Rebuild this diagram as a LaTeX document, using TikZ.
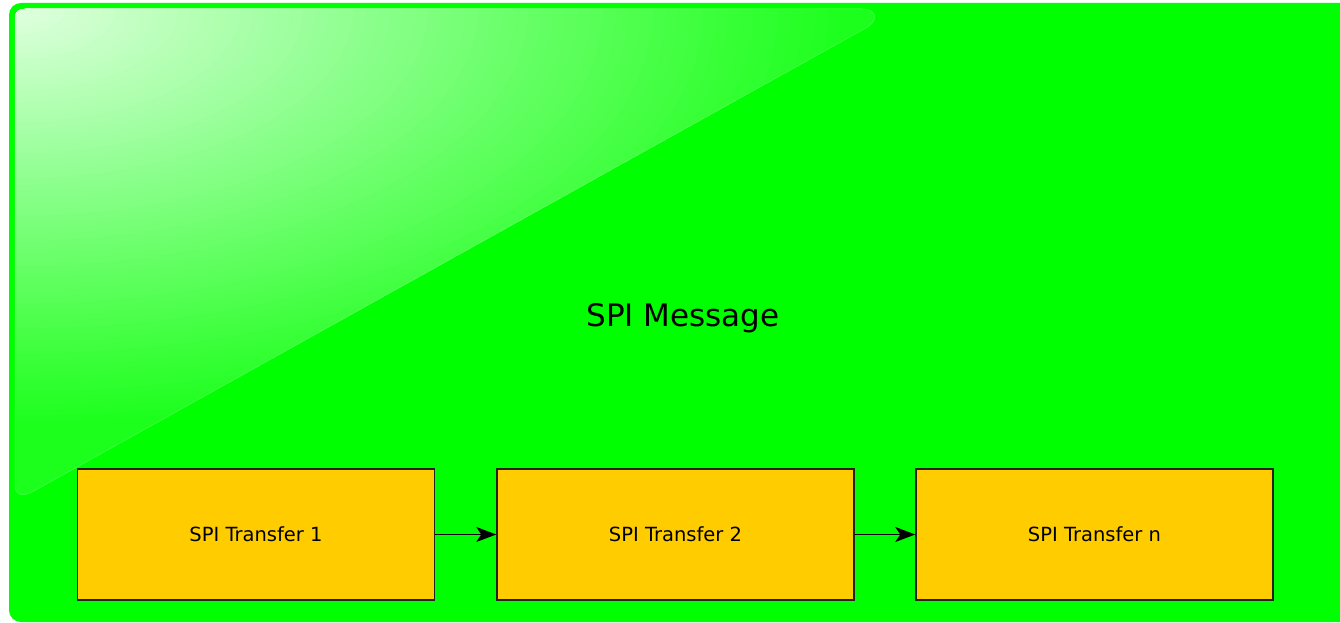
\documentclass[tikz,border=0pt]{standalone}
\usepackage{fontspec}
\setmainfont{DejaVu Sans}
\usetikzlibrary{arrows.meta}
\definecolor{bggreen}{HTML}{00FF00}
\definecolor{boxyellow}{HTML}{FFCC00}
\definecolor{boxline}{HTML}{222222}
\tikzset{
  xferbox/.style={draw=boxline, line width=1.5pt, fill=boxyellow, minimum width=357pt, minimum height=131pt, inner sep=0pt, font=\fontsize{19.5}{22}\selectfont},
  flow/.style={draw=black, line width=1.5pt, -{Stealth[length=20pt,width=15pt,inset=5pt]}},
  glossrim/.style={draw=white, draw opacity=0.12, line width=1pt}
}
\def\glosspath{(15,19) .. controls (15,12) and (18,9) .. (25,9) -- (862,9)
  .. controls (878,9) and (879,22) .. (864,29)
  -- (32,492) .. controls (22,497) and (15,495) .. (15,485) -- cycle}
\begin{document}
\begin{tikzpicture}[x=1pt,y=-1pt]
\useasboundingbox (0,0) rectangle (1340,623);
% outer green container
\draw[draw=bggreen, line width=4pt, fill=bggreen, rounded corners=10pt] (11,5) rectangle (1360,620);
% glossy highlight
\begin{scope}
  \clip \glosspath;
  \foreach \i in {120,119,...,0} {
    \pgfmathsetmacro\rr{\i/120*1.5}
    \pgfmathsetmacro\ww{max(11,88-92*\rr)}
    \fill[fill=white!\ww!bggreen] (15,9) ellipse [x radius={1000*\rr+0.5}, y radius={500*\rr+0.5}];
  }
\end{scope}
\path[glossrim] \glosspath;
% title
\node[font=\fontsize{31}{36}\selectfont] (title) at (683,318) {SPI Message};
% transfers
\node[xferbox] (t1) at (256,534.5) {SPI Transfer 1};
\node[xferbox] (t2) at (675.5,534.5) {SPI Transfer 2};
\node[xferbox] (tn) at (1094.5,534.5) {SPI Transfer n};
\draw[flow] (t1.east) -- (t2.west);
\draw[flow] (t2.east) -- (tn.west);
\end{tikzpicture}
\end{document}
